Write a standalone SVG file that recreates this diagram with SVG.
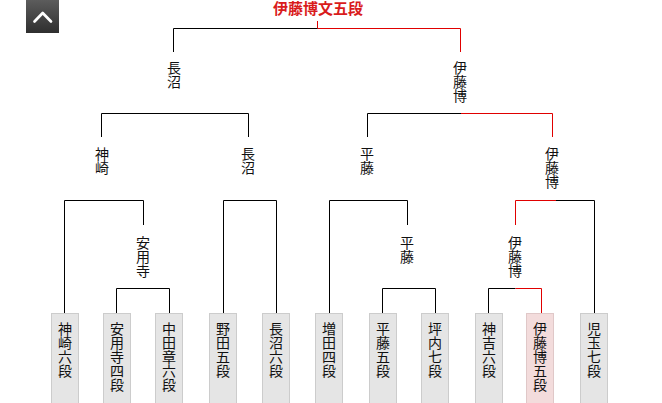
<svg xmlns="http://www.w3.org/2000/svg" width="662" height="403" viewBox="0 0 662 403">
<defs>
<linearGradient id="btn" x1="0" y1="0" x2="0" y2="1">
<stop offset="0" stop-color="#5c5c5c"/>
<stop offset="1" stop-color="#2f2f2f"/>
</linearGradient>
</defs>
<style>
text{font-family:"Noto Sans CJK JP","Noto Sans CJK SC",sans-serif;font-size:14px;fill:#111}
.v{writing-mode:vertical-rl;text-orientation:upright}
.title{font-size:15px;font-weight:bold;fill:#d91c1c;text-anchor:middle}
.box{fill:#e5e5e5;stroke:#cccccc;stroke-width:1}
.win{fill:#f3dcdc;stroke:#e0c8c8;stroke-width:1}
.k{stroke:#000;stroke-width:1;fill:none}
.r{stroke:#e00000;stroke-width:1;fill:none}
</style>
<rect width="662" height="403" fill="#fff"/>
<g id="top-button">
<rect x="26" y="0" width="33" height="33" fill="url(#btn)"/>
<polyline points="34.5,21.5 42.7,13 51,21.5" fill="none" stroke="#fff" stroke-width="2.7" stroke-linecap="round" stroke-linejoin="round"/>
</g>
<g id="connectors">
<path class="r" d="M317.5,21 V28.5 H460.5 V52"/>
<path class="k" d="M317.5,28.5 H173.5 V52"/>
<path class="k" d="M101.5,137 V113.5 H248.5 V137"/>
<path class="k" d="M367.5,137 V113.5 H461"/>
<path class="r" d="M461,113.5 H552.5 V137"/>
<path class="k" d="M64.5,313 V200.5 H143.5 V225"/>
<path class="k" d="M223.5,313 V200.5 H276.5 V313"/>
<path class="k" d="M329.5,313 V200.5 H407.5 V225"/>
<path class="r" d="M515.5,225 V200.5 H556"/>
<path class="k" d="M556,200.5 H594.5 V313"/>
<path class="k" d="M116.5,313 V288.5 H169.5 V313"/>
<path class="k" d="M382.5,313 V288.5 H435.5 V313"/>
<path class="k" d="M488.5,313 V288.5 H515.5"/>
<path class="r" d="M515.5,288.5 H541.5 V313"/>
</g>
<g id="champion"><text class="title" x="318" y="14">伊藤博文五段</text></g>
<g id="f-naganuma"><text class="v" x="174" y="61">長沼</text></g>
<g id="f-ito"><text class="v" x="460" y="61">伊藤博</text></g>
<g id="s-kanzaki"><text class="v" x="102" y="147">神崎</text></g>
<g id="s-naganuma"><text class="v" x="248" y="147">長沼</text></g>
<g id="s-hirafuji"><text class="v" x="367" y="147">平藤</text></g>
<g id="s-ito"><text class="v" x="552" y="147">伊藤博</text></g>
<g id="q-anyoji"><text class="v" x="143" y="236">安用寺</text></g>
<g id="q-hirafuji"><text class="v" x="407" y="236">平藤</text></g>
<g id="q-ito"><text class="v" x="515" y="236">伊藤博</text></g>
<g id="p1"><rect class="box" x="51.5" y="313.5" width="27" height="95"/><text class="v" x="65" y="322">神崎六段</text></g>
<g id="p2"><rect class="box" x="103.5" y="313.5" width="27" height="95"/><text class="v" x="117" y="322">安用寺四段</text></g>
<g id="p3"><rect class="box" x="155.5" y="313.5" width="27" height="95"/><text class="v" x="169" y="322">中田章六段</text></g>
<g id="p4"><rect class="box" x="209.5" y="313.5" width="27" height="95"/><text class="v" x="223" y="322">野田五段</text></g>
<g id="p5"><rect class="box" x="262.5" y="313.5" width="27" height="95"/><text class="v" x="276" y="322">長沼六段</text></g>
<g id="p6"><rect class="box" x="315.5" y="313.5" width="27" height="95"/><text class="v" x="329" y="322">増田四段</text></g>
<g id="p7"><rect class="box" x="369.5" y="313.5" width="27" height="95"/><text class="v" x="383" y="322">平藤五段</text></g>
<g id="p8"><rect class="box" x="421.5" y="313.5" width="27" height="95"/><text class="v" x="435" y="322">坪内七段</text></g>
<g id="p9"><rect class="box" x="475.5" y="313.5" width="27" height="95"/><text class="v" x="489" y="322">神吉六段</text></g>
<g id="p10"><rect class="win" x="526.5" y="313.5" width="27" height="95"/><text class="v" x="540" y="322">伊藤博五段</text></g>
<g id="p11"><rect class="box" x="580.5" y="313.5" width="27" height="95"/><text class="v" x="594" y="322">児玉七段</text></g>
</svg>
